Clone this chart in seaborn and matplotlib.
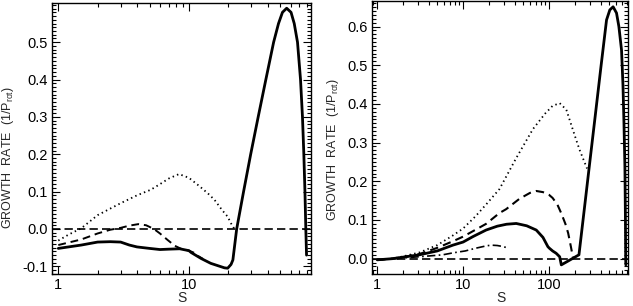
import numpy as np
import matplotlib
matplotlib.use('Agg')
import matplotlib.pyplot as plt
import matplotlib.ticker as mticker
import seaborn as sns

# left panel
left_solid_s = [1.0, 1.5, 2.0, 2.5, 3.0, 3.5, 4.0, 5.0, 6.0, 7.0, 8.5, 10.0, 10.4, 12.4, 14.7,
                18.7, 19.8, 21.0, 21.7, 23.2, 26.2, 29.7, 33.9, 38.8, 44.5, 48.5, 52.0, 56.0,
                60.5, 64.0, 67.8, 71.5, 74.0, 75.8, 77.3, 78.5, 79.5]
left_solid_g = [-0.052, -0.043, -0.035, -0.034, -0.035, -0.043, -0.048, -0.052, -0.055, -0.054,
                -0.053, -0.058, -0.063, -0.079, -0.092, -0.104, -0.105, -0.095, -0.083, 0.0,
                0.1, 0.2, 0.3, 0.4, 0.5, 0.55, 0.58, 0.591, 0.58, 0.55, 0.5, 0.4, 0.3, 0.2,
                0.1, 0.0, -0.07]
left_dash_s = [1.0, 1.5, 2.0, 2.5, 3.0, 3.5, 4.1, 4.7, 5.4, 6.0, 6.9, 7.8, 8.7, 10.0, 11.0, 11.7, 12.8]
left_dash_g = [-0.043, -0.028, -0.012, -0.002, 0.003, 0.009, 0.013, 0.01, 0.0, -0.012, -0.03,
               -0.045, -0.053, -0.058, -0.064, -0.072, -0.08]
left_dot_s = [1.0, 1.2, 1.5, 2.0, 3.0, 4.0, 5.1, 6.0, 7.0, 8.4, 10.0, 12.0, 14.0, 15.7, 18.0,
              19.8, 21.0, 22.3]
left_dot_g = [-0.031, -0.015, 0.002, 0.037, 0.069, 0.09, 0.105, 0.12, 0.135, 0.147, 0.137,
              0.115, 0.095, 0.078, 0.05, 0.033, 0.015, 0.0]

# right panel
right_solid_s = [1.0, 1.5, 2.0, 3.1, 5.0, 7.6, 10.0, 13.0, 18.5, 25.0, 32.0, 41.5, 55.0, 71.0,
                 85.0, 97.0, 101.0, 110.0, 121.0, 133.0, 139.0, 170.0, 200.0, 223.0, 265.0,
                 294.0, 344.0, 402.0, 467.0, 510.0, 557.0, 610.0, 650.0, 698.0, 725.0, 745.0,
                 764.0, 775.0, 780.0, 783.0]
right_solid_g = [-0.003, 0.0, 0.004, 0.01, 0.02, 0.035, 0.043, 0.057, 0.074, 0.084, 0.089,
                 0.091, 0.085, 0.074, 0.055, 0.031, 0.027, 0.02, 0.014, 0.005, -0.016, -0.005,
                 0.004, 0.01, 0.152, 0.238, 0.367, 0.496, 0.617, 0.643, 0.651, 0.635, 0.6,
                 0.539, 0.45, 0.35, 0.238, 0.1, 0.0, -0.016]
right_dash_s = [1.0, 1.5, 2.0, 3.1, 5.0, 7.6, 10.0, 14.0, 18.5, 26.5, 31.7, 45.4, 60.0, 71.0,
                85.0, 100.0, 110.0, 125.0, 139.0, 155.0, 167.0, 180.0, 189.0, 195.0]
right_dash_g = [-0.003, 0.0, 0.004, 0.012, 0.028, 0.045, 0.057, 0.075, 0.09, 0.118, 0.128,
                0.155, 0.17, 0.175, 0.172, 0.165, 0.157, 0.14, 0.117, 0.09, 0.066, 0.03,
                0.005, 0.0]
right_dot_s = [1.0, 1.5, 2.0, 3.1, 5.0, 7.6, 10.0, 14.0, 18.5, 26.5, 41.5, 65.0, 90.0, 110.0,
               133.0, 159.0, 182.0, 205.0, 227.0, 277.0]
right_dot_g = [-0.003, 0.0, 0.006, 0.016, 0.035, 0.06, 0.078, 0.11, 0.14, 0.18, 0.26, 0.335,
               0.375, 0.395, 0.402, 0.385, 0.345, 0.31, 0.281, 0.233]
right_dd_s = [1.0, 2.0, 3.1, 5.8, 7.6, 10.6, 14.0, 18.5, 21.2, 25.0, 28.0, 31.7]
right_dd_g = [-0.003, 0.002, 0.005, 0.01, 0.015, 0.02, 0.027, 0.033, 0.035, 0.034, 0.032, 0.029]

sns.set_style('ticks')
plt.rcParams['font.family'] = ['Liberation Sans', 'DejaVu Sans']
plt.rcParams['mathtext.default'] = 'regular'

fig = plt.figure(figsize=(6.33, 3.06), dpi=100)
ax1 = fig.add_axes([52 / 633, 32 / 306, 259 / 633, 271 / 306])
ax2 = fig.add_axes([372 / 633, 32 / 306, 256 / 633, 273 / 306])

DOT = (0, (0.8, 1.8))
DASH = (0, (4, 2.5))
DASHDOT = (0, (5, 2, 1, 2))

for ax in (ax1, ax2):
    ax.set_xscale('log')
    ax.axhline(0, color='k', lw=1.2, linestyle=(0, (5, 2.5)))

sns.lineplot(x=left_solid_s, y=left_solid_g, ax=ax1, color='k', lw=2, estimator=None, sort=False)
sns.lineplot(x=left_dash_s, y=left_dash_g, ax=ax1, color='k', lw=1.4, linestyle=DASH, estimator=None, sort=False)
sns.lineplot(x=left_dot_s, y=left_dot_g, ax=ax1, color='k', lw=1.3, linestyle=DOT, estimator=None, sort=False)

sns.lineplot(x=right_solid_s, y=right_solid_g, ax=ax2, color='k', lw=2, estimator=None, sort=False)
sns.lineplot(x=right_dash_s, y=right_dash_g, ax=ax2, color='k', lw=1.5, linestyle=DASH, estimator=None, sort=False)
sns.lineplot(x=right_dot_s, y=right_dot_g, ax=ax2, color='k', lw=1.3, linestyle=DOT, estimator=None, sort=False)
sns.lineplot(x=right_dd_s, y=right_dd_g, ax=ax2, color='k', lw=1.2, linestyle=DASHDOT, estimator=None, sort=False)

ax1.set_xlim(0.895, 86)
ax1.set_ylim(-0.1205, 0.605)
ax1.set_yticks(np.arange(-0.1, 0.55, 0.1))
ax2.set_xlim(0.87, 830)
ax2.set_ylim(-0.0396, 0.666)
ax2.set_yticks(np.arange(0.0, 0.65, 0.1))

for ax in (ax1, ax2):
    ax.xaxis.set_major_locator(mticker.LogLocator(base=10))
    ax.xaxis.set_minor_locator(mticker.LogLocator(base=10, subs=np.arange(2, 10)))
    ax.xaxis.set_major_formatter(mticker.FormatStrFormatter('%g'))
    ax.xaxis.set_minor_formatter(mticker.NullFormatter())
    ax.yaxis.set_minor_locator(mticker.MultipleLocator(0.01))
    ax.yaxis.set_major_formatter(mticker.FormatStrFormatter('%.1f'))
    ax.tick_params(which='both', direction='in', top=True, right=True, colors='k',
                   labelsize=10.5, pad=3, width=0.8)
    ax.tick_params(which='major', length=6)
    ax.tick_params(which='minor', length=3)
    for sp in ax.spines.values():
        sp.set_linewidth(1.0)
        sp.set_color('k')
    ax.set_xlabel('S', fontsize=10)
    ax.set_ylabel('GROWTH  RATE  (1/P$_{rot}$)', fontsize=9)

ax1.xaxis.set_label_coords(0.5, -0.064)
ax2.xaxis.set_label_coords(0.505, -0.064)
ax1.yaxis.set_label_coords(-0.14, 0.43)
ax2.yaxis.set_label_coords(-0.122, 0.455)

fig.savefig('out.png', dpi=100, facecolor='white')
